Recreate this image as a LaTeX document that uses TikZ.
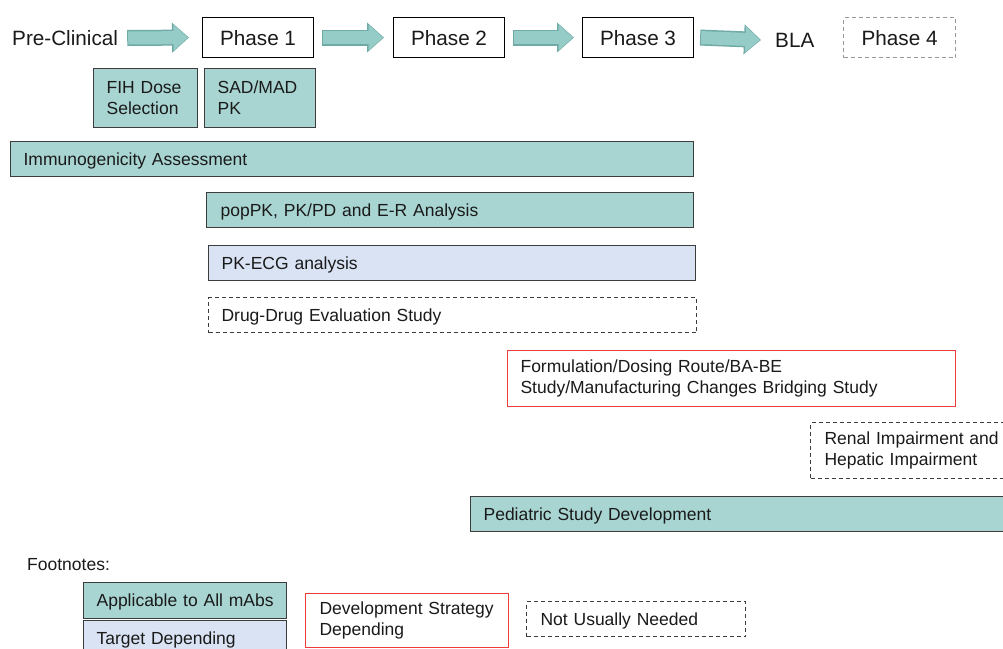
\documentclass[tikz,border=0pt]{standalone}
\usepackage{fontspec}
\setmainfont{Liberation Sans}
\usetikzlibrary{arrows.meta}
\definecolor{tealf}{HTML}{A8D5D2}
\definecolor{bluef}{HTML}{DAE3F3}
\definecolor{redl}{HTML}{EE3B3B}
\definecolor{edge}{HTML}{3C3C3C}
\definecolor{txt}{HTML}{1A1A1A}
\definecolor{arrowf}{HTML}{96CCC8}
\definecolor{arrowd}{HTML}{6FAAA6}
\tikzset{
  every node/.style={text=txt},
  big/.style={font=\fontsize{20.7}{24}\selectfont},
  lbl/.style={font=\fontsize{17.5}{21}\selectfont},
  phasebox/.style={big, draw=black, line width=1.1pt, fill=white, minimum width=111pt, minimum height=40pt, anchor=north west, inner sep=0pt},
  bx/.style={lbl, draw=edge, line width=1.2pt, anchor=north west, align=left, inner xsep=13pt, inner ysep=0pt},
  one/.style={text depth=0pt},
  tealbox/.style={bx, fill=tealf},
  bluebox/.style={bx, fill=bluef},
  redbox/.style={bx, draw=redl, line width=1.1pt, fill=white},
  dashbox/.style={bx, dash pattern=on 4pt off 3pt, line width=1.1pt, fill=white},
  fatout/.style={line width=16pt, draw=arrowd, -{Triangle[length=17pt,width=29pt]}},
  fat/.style={line width=13pt, draw=arrowf, -{Triangle[length=14.5pt,width=25pt,fill=arrowf]}},
}
\begin{document}
\begin{tikzpicture}[x=1pt,y=-1pt]
\useasboundingbox (0,0) rectangle (1003,648);
\clip (0,0) rectangle (1003,648);
% phase row
\node[big, anchor=west, inner sep=0pt] (pre) at (12,38) {Pre-Clinical};
\node[phasebox, one] (p1) at (202,17) {Phase 1};
\node[phasebox, one] (p2) at (393,17) {Phase 2};
\node[phasebox, one] (p3) at (582,17) {Phase 3};
\node[big, anchor=west, inner sep=0pt] (bla) at (775,40) {BLA};
\node[phasebox, one, draw=gray!80, dash pattern=on 4pt off 3pt, minimum width=112pt] (p4) at (843,17) {\mbox{Phase 4}\hspace{5pt}};
% fat arrows
\foreach \a/\b/\s/\e in {pre/p1/10/-14, p1/p2/9/-10, p2/p3/9/-9, p3/bla/7/-15}{
  \draw[fatout] ([xshift=\s pt-1pt]\a.east) -- ([xshift=\e pt+1pt]\b.west);
  \draw[fat] ([xshift=\s pt]\a.east) -- ([xshift=\e pt]\b.west);
}
% boxes
\node[tealbox, text width=78pt, minimum height=59pt] (fih) at (93,68) {\mbox{FIH Dose}\\\mbox{Selection}};
\node[tealbox, text width=85pt, minimum height=59pt] (sad) at (204,68) {\mbox{SAD/MAD}\\PK};
\node[tealbox, one, text width=657pt, minimum height=35pt] (imm) at (10,141) {\mbox{Immunogenicity Assessment}};
\node[tealbox, one, minimum height=35pt, inner xsep=14pt, text width=459pt] (pop) at (206,192) {\mbox{popPK, PK/PD and E-R Analysis}};
\node[bluebox, one, text width=461pt, minimum height=35pt] (ecg) at (208,245) {\mbox{PK-ECG analysis}};
\node[dashbox, one, text width=462pt, minimum height=35pt] (ddi) at (208,297) {\mbox{Drug-Drug Evaluation Study}};
\node[redbox, text width=422pt, minimum height=56pt] (form) at (507,350) {\mbox{Formulation/Dosing Route/BA-BE}\\\mbox{Study/Manufacturing Changes Bridging Study}};
\node[dashbox, text width=174pt, minimum height=56pt, inner xsep=14pt] (renal) at (810,422) {\mbox{Renal Impairment and}\\\mbox{Hepatic Impairment}};
\node[tealbox, one, text width=514pt, minimum height=35pt] (ped) at (470,496) {\mbox{Pediatric Study Development}};
% footnotes
\node[lbl, anchor=west, inner sep=0pt] (fn) at (27,565) {Footnotes:};
\node[tealbox, one, text width=177pt, minimum height=36pt] (app) at (83,582) {\mbox{Applicable to All mAbs}};
\node[bluebox, one, text width=177pt, minimum height=36pt] (tgt) at (83,620) {\mbox{Target Depending}};
\node[redbox, text width=175pt, minimum height=54pt, inner xsep=14pt] (dev) at (305,593) {\mbox{Development Strategy}\\\mbox{Depending}};
\node[dashbox, one, text width=191pt, minimum height=35pt, inner xsep=14pt] (nun) at (526,601) {\mbox{Not Usually Needed}};
\end{tikzpicture}
\end{document}
